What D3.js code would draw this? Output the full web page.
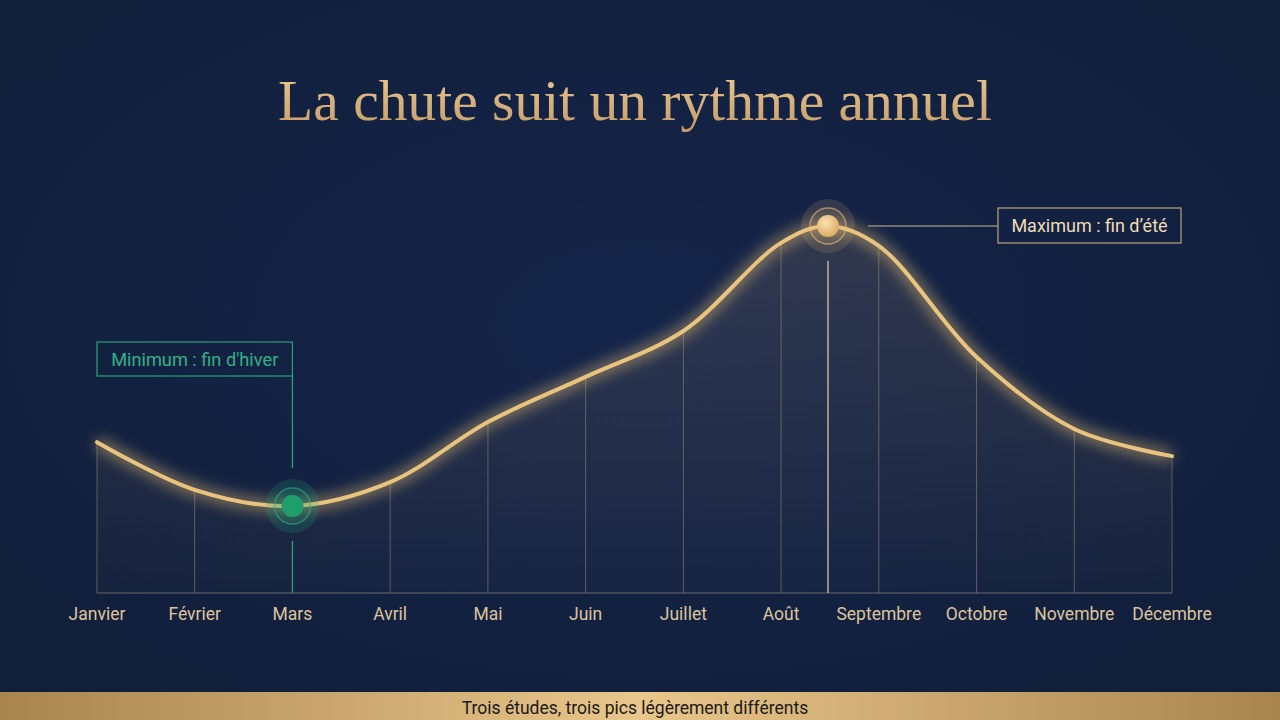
<!DOCTYPE html>
<html>
<head>
<meta charset="utf-8">
<script src="https://cdn.jsdelivr.net/npm/d3@7/dist/d3.min.js"></script>
<style>
  html, body { margin: 0; padding: 0; background: #13223f; }
  svg { display: block; }
</style>
</head>
<body>
<svg id="chart" width="1280" height="720"></svg>
<script>
// ---- Data (relative index, 100 = annual maximum) ----
const months = ["Janvier", "Février", "Mars", "Avril", "Mai", "Juin", "Juillet", "Août", "Septembre", "Octobre", "Novembre", "Décembre"];
const values = [41.1, 28.1, 23.7, 30.2, 46.6, 58.9, 71.4, 95.4, 94.6, 64.3, 44.7, 37.3];
const peak = { pos: 7.48, value: 100, label: "Maximum : fin d’été" };
const trough = { pos: 2, value: 23.7, label: "Minimum : fin d'hiver" };
const title = "La chute suit un rythme annuel";
const footer = "Trois études, trois pics légèrement différents";

const W = 1280, H = 720;
const svg = d3.select("#chart");
const defs = svg.append("defs");

// Background
const bg = defs.append("radialGradient").attr("id", "bg").attr("cx", "50%").attr("cy", "45%").attr("r", "75%");
bg.append("stop").attr("offset", "0%").attr("stop-color", "#15254a");
bg.append("stop").attr("offset", "100%").attr("stop-color", "#111e38");
svg.append("rect").attr("width", W).attr("height", H).attr("fill", "url(#bg)");

// Gradients
const tg = defs.append("linearGradient").attr("id", "titleGrad").attr("x1", "0").attr("y1", "0").attr("x2", "0").attr("y2", "1");
tg.append("stop").attr("offset", "0%").attr("stop-color", "#ecca94");
tg.append("stop").attr("offset", "100%").attr("stop-color", "#c49b68");

const ag = defs.append("linearGradient").attr("id", "areaGrad").attr("x1", "0").attr("y1", "0").attr("x2", "0").attr("y2", "1");
ag.append("stop").attr("offset", "0%").attr("stop-color", "#d8b27a").attr("stop-opacity", 0.15);
ag.append("stop").attr("offset", "100%").attr("stop-color", "#d8b27a").attr("stop-opacity", 0.02);

const fg = defs.append("linearGradient").attr("id", "footGrad").attr("x1", "0").attr("y1", "0").attr("x2", "1").attr("y2", "0");
fg.append("stop").attr("offset", "0%").attr("stop-color", "#a8844f");
fg.append("stop").attr("offset", "50%").attr("stop-color", "#e9c68b");
fg.append("stop").attr("offset", "100%").attr("stop-color", "#a8844f");

const dg = defs.append("radialGradient").attr("id", "goldDot").attr("cx", "40%").attr("cy", "35%").attr("r", "70%");
dg.append("stop").attr("offset", "0%").attr("stop-color", "#fbe2b0");
dg.append("stop").attr("offset", "100%").attr("stop-color", "#d9a95e");

const glowF = defs.append("filter").attr("id", "glow").attr("x", "-10%").attr("y", "-30%").attr("width", "120%").attr("height", "160%");
glowF.append("feGaussianBlur").attr("stdDeviation", 7);

// Scales
const x = d3.scalePoint().domain(d3.range(months.length)).range([97, 1172]);
const step = x.step();
const xPos = p => x(0) + p * step;
const y = d3.scaleLinear().domain([0, 100]).range([593, 226]);

// Curve points (months + annotated peak)
const pts = values.map((v, i) => ({ p: i, v }));
pts.splice(8, 0, { p: peak.pos, v: peak.value });

const curve = d3.curveCatmullRom.alpha(0.5);
const line = d3.line().x(d => xPos(d.p)).y(d => y(d.v)).curve(curve);
const area = d3.area().x(d => xPos(d.p)).y0(y(0)).y1(d => y(d.v)).curve(curve);

// Title
svg.append("text").attr("x", 635).attr("y", 120).attr("text-anchor", "middle")
  .attr("font-family", "'Liberation Serif', 'DejaVu Serif', serif").attr("font-size", 57.5)
  .attr("fill", "url(#titleGrad)").text(title);

// Area
svg.append("path").datum(pts).attr("d", area).attr("fill", "url(#areaGrad)");

// Grid drop lines
svg.append("g").selectAll("line").data(values).join("line")
  .attr("x1", (d, i) => x(i)).attr("x2", (d, i) => x(i))
  .attr("y1", y(0)).attr("y2", d => y(d) + 2)
  .attr("stroke", (d, i) => i === trough.pos ? "none" : "#8c8677").attr("stroke-opacity", 0.6).attr("stroke-width", 1);

// Baseline
svg.append("line").attr("x1", x(0)).attr("x2", x(months.length - 1)).attr("y1", y(0)).attr("y2", y(0))
  .attr("stroke", "#8c8677").attr("stroke-opacity", 0.7).attr("stroke-width", 1.2);

// Curve glow + line
svg.append("path").datum(pts).attr("d", line).attr("fill", "none")
  .attr("stroke", "#f0c574").attr("stroke-width", 12).attr("stroke-opacity", 0.5).attr("filter", "url(#glow)");
svg.append("path").datum(pts).attr("d", line).attr("fill", "none")
  .attr("stroke", "#eac37f").attr("stroke-width", 4).attr("stroke-linecap", "round");

// Month labels
svg.append("g").selectAll("text").data(months).join("text")
  .attr("x", (d, i) => x(i)).attr("y", 620).attr("text-anchor", "middle")
  .attr("font-family", "Roboto, 'Noto Sans', sans-serif").attr("font-size", 17.5)
  .attr("fill", "#dcc49c").text(d => d);

// ---- Minimum annotation ----
const tx = xPos(trough.pos), ty = y(trough.value);
const teal = "#2aa07d";
svg.append("line").attr("x1", tx).attr("x2", tx).attr("y1", 376).attr("y2", ty - 38).attr("stroke", teal).attr("stroke-width", 1.3);
svg.append("line").attr("x1", tx).attr("x2", tx).attr("y1", ty + 35).attr("y2", y(0)).attr("stroke", teal).attr("stroke-width", 1.3);
svg.append("rect").attr("x", 97).attr("y", 342).attr("width", tx - 97).attr("height", 34)
  .attr("fill", "none").attr("stroke", teal).attr("stroke-width", 1.2);
svg.append("text").attr("x", (97 + tx) / 2).attr("y", 365.5).attr("text-anchor", "middle")
  .attr("font-family", "Roboto, 'Noto Sans', sans-serif").attr("font-size", 18.2)
  .attr("fill", "#2fb187").text(trough.label);
svg.append("circle").attr("cx", tx).attr("cy", ty).attr("r", 27).attr("fill", "#1f9e73").attr("fill-opacity", 0.2);
svg.append("circle").attr("cx", tx).attr("cy", ty).attr("r", 18).attr("fill", "#1f9e73").attr("fill-opacity", 0.15)
  .attr("stroke", "#2fb187").attr("stroke-opacity", 0.6).attr("stroke-width", 1.5);
svg.append("circle").attr("cx", tx).attr("cy", ty).attr("r", 11).attr("fill", "#1f9e6c");

// ---- Maximum annotation ----
const px = xPos(peak.pos), py = y(peak.value);
const goldLine = "#c9b58e";
svg.append("line").attr("x1", px).attr("x2", px).attr("y1", py + 35).attr("y2", y(0)).attr("stroke", "#d9c49a").attr("stroke-width", 1.3);
svg.append("line").attr("x1", px + 40).attr("x2", 998).attr("y1", py).attr("y2", py).attr("stroke", goldLine).attr("stroke-width", 1.2);
svg.append("rect").attr("x", 998).attr("y", 208).attr("width", 183).attr("height", 35)
  .attr("fill", "none").attr("stroke", "#b9a47e").attr("stroke-width", 1.2);
svg.append("text").attr("x", 998 + 183 / 2).attr("y", 232).attr("text-anchor", "middle")
  .attr("font-family", "Roboto, 'Noto Sans', sans-serif").attr("font-size", 18)
  .attr("fill", "#f0dcb6").text(peak.label);
svg.append("circle").attr("cx", px).attr("cy", py).attr("r", 27).attr("fill", "#e8c07a").attr("fill-opacity", 0.14);
svg.append("circle").attr("cx", px).attr("cy", py).attr("r", 18).attr("fill", "#e8c07a").attr("fill-opacity", 0.12)
  .attr("stroke", "#e8c07a").attr("stroke-opacity", 0.6).attr("stroke-width", 1.5);
svg.append("circle").attr("cx", px).attr("cy", py).attr("r", 11).attr("fill", "url(#goldDot)");

// ---- Footer band ----
svg.append("rect").attr("x", 0).attr("y", 692).attr("width", W).attr("height", 28).attr("fill", "url(#footGrad)");
svg.append("text").attr("x", 635).attr("y", 714).attr("text-anchor", "middle")
  .attr("font-family", "Roboto, 'Noto Sans', sans-serif").attr("font-size", 17.5)
  .attr("fill", "#1b1a17").text(footer);
</script>
</body>
</html>
